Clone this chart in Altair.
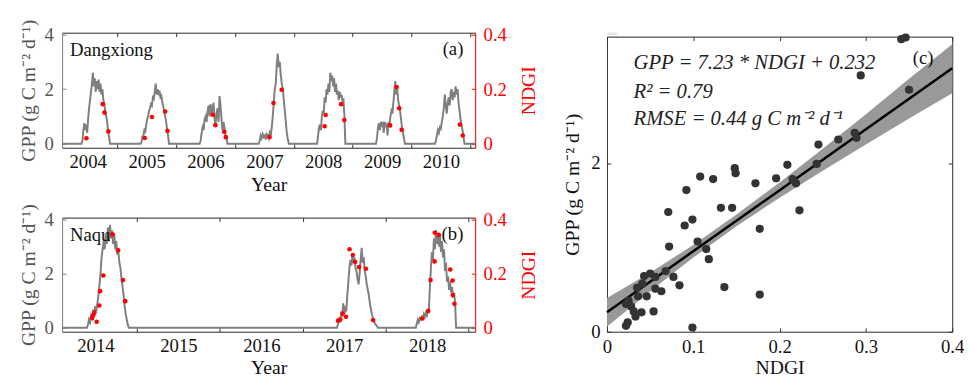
import altair as alt
import pandas as pd

FONT = "Liberation Serif"

# ---------------- Panel (a) Dangxiong: GPP seasons ----------------
dx_domain = [2004.064, 2011.08]
dx_ticks = [2005, 2006, 2007, 2008, 2009, 2010, 2011]
dx_start = [2004.393, 2005.396, 2006.400, 2007.403, 2008.396, 2009.396, 2010.396]
dx_end = [2004.878, 2005.880, 2006.873, 2007.915, 2008.875, 2009.886, 2010.898]
gpp_dx_2004 = [0.1, 0.5, 0.75, 0.5, 0.7, 0.4, 0.9, 1.3, 1.6, 1.9, 2.2, 2.6, 2.1, 2.4, 1.9,
               2.3, 2.0, 2.35, 1.9, 2.2, 1.8, 2.0, 1.6, 1.45, 1.2, 1.0, 0.8, 0.45, 0.25, 0.0]
gpp_dx_2005 = [0.05, 0.25, 0.3, 0.5, 0.45, 0.7, 0.9, 1.0, 1.2, 1.3, 1.45, 1.4, 1.7, 1.65, 1.9,
               2.2, 1.8, 2.0, 1.85, 1.95, 1.7, 1.75, 1.5, 1.35, 1.2, 1.0, 0.8, 0.5, 0.3, 0.0]
gpp_dx_2006 = [0.1, 0.4, 0.6, 0.5, 0.9, 1.0, 0.8, 1.2, 1.4, 1.0, 1.45, 1.1, 1.3, 1.5, 0.9,
               0.7, 1.1, 1.3, 0.8, 1.75, 1.4, 0.9, 0.5, 0.8, 0.6, 0.3, 0.2, 0.0]
gpp_dx_2007 = [0.1, 0.3, 0.2, 0.35, 0.25, 0.3, 0.15, 0.35, 0.3, 0.2, 0.4, 0.3, 0.6, 1.0, 1.5,
               2.0, 2.2, 2.9, 3.3, 2.8, 3.0, 2.5, 2.2, 2.0, 1.6, 1.2, 0.8, 0.4, 0.15, 0.0]
gpp_dx_2008 = [0.3, 0.6, 0.7, 0.5, 1.0, 1.2, 1.1, 1.7, 1.5, 2.0, 1.8, 2.2, 1.9, 2.6, 2.3,
               2.5, 2.1, 2.4, 1.9, 2.2, 1.8, 1.95, 1.6, 1.9, 1.7, 1.8, 1.55, 1.6, 1.0, 0.0]
gpp_dx_2009 = [0.2, 0.6, 0.75, 0.5, 0.8, 0.7, 0.8, 0.4, 0.8, 0.6, 0.75, 0.3, 0.8, 0.7, 1.0,
               1.2, 1.1, 1.5, 1.9, 2.3, 1.8, 2.0, 1.6, 1.4, 1.2, 0.9, 0.6, 0.4, 0.2, 0.0]
gpp_dx_2010 = [0.1, 0.3, 0.5, 0.4, 0.6, 0.55, 0.8, 1.0, 1.3, 1.8, 1.4, 1.1, 1.5, 1.7, 1.4,
               1.9, 2.0, 1.6, 1.9, 1.7, 2.1, 1.8, 2.0, 1.5, 1.2, 0.9, 0.7, 0.5, 0.25, 0.0]
dx_seasons = [gpp_dx_2004, gpp_dx_2005, gpp_dx_2006, gpp_dx_2007,
              gpp_dx_2008, gpp_dx_2009, gpp_dx_2010]

ndgi_dx_t = [2004.477, 2004.754, 2004.783, 2004.850, 2005.468, 2005.590, 2005.814, 2005.853,
             2006.622, 2006.667, 2006.818, 2006.844, 2007.587, 2007.654, 2007.793,
             2008.523, 2008.540, 2008.803, 2008.858, 2009.635, 2009.747, 2009.790, 2009.830,
             2010.819, 2010.869]
ndgi_dx_v = [0.020, 0.145, 0.114, 0.045, 0.021, 0.098, 0.118, 0.047,
             0.106, 0.068, 0.044, 0.024, 0.024, 0.149, 0.198,
             0.064, 0.105, 0.145, 0.087, 0.067, 0.208, 0.130, 0.051,
             0.070, 0.030]

# ---------------- Panel (b) Naqu ----------------
nq_domain = [2014.10, 2019.08]
nq_ticks = [2015, 2016, 2017, 2018, 2019]
nq_start = [2014.399, 2017.415, 2018.364]
nq_end = [2014.905, 2017.909, 2018.850]
gpp_nq_2014 = [0.1, 0.3, 0.2, 0.45, 0.35, 0.6, 0.5, 0.8, 0.6, 0.9, 1.2, 1.6, 2.0, 2.6, 2.9,
               3.2, 2.9, 3.5, 3.1, 3.7, 3.2, 3.8, 3.3, 3.6, 3.1, 3.5, 2.9, 3.2, 2.7, 2.8,
               2.4, 2.2, 1.8, 1.5, 1.2, 0.8, 0.5, 0.3, 0.1, 0.0]
gpp_nq_2017 = [0.15, 0.3, 0.25, 0.5, 0.4, 0.9, 0.5, 0.7, 0.6, 1.2, 1.7, 2.2, 2.5, 2.3, 2.7,
               2.4, 2.6, 2.2, 2.1, 1.8, 1.6, 2.0, 2.5, 2.95, 2.4, 2.6, 2.1, 1.9, 1.6, 1.4,
               1.2, 0.9, 0.7, 0.5, 0.35, 0.25, 0.15, 0.1, 0.05, 0.0]
gpp_nq_2018 = [0.15, 0.3, 0.2, 0.35, 0.3, 0.4, 0.35, 0.5, 0.4, 0.55, 0.45, 0.6, 0.7, 1.5, 2.2,
               2.8, 2.5, 3.3, 2.9, 3.6, 3.1, 3.5, 3.0, 3.4, 2.8, 3.2, 2.6, 2.9, 2.1, 2.4,
               1.7, 1.9, 1.4, 1.7, 1.3, 1.5, 1.1, 1.3, 0.9, 0.0]
nq_seasons = [gpp_nq_2014, gpp_nq_2017, gpp_nq_2018]

ndgi_nq_t = [2014.463, 2014.478, 2014.490, 2014.517, 2014.549, 2014.558, 2014.597, 2014.707,
             2014.775, 2014.834, 2014.861,
             2017.427, 2017.454, 2017.482, 2017.522, 2017.565, 2017.605, 2017.632, 2017.680,
             2017.763, 2017.849,
             2018.442, 2018.514, 2018.542, 2018.590, 2018.593, 2018.641, 2018.779, 2018.807,
             2018.810, 2018.830]
ndgi_nq_v = [0.036, 0.048, 0.056, 0.022, 0.082, 0.135, 0.193, 0.345, 0.286, 0.176, 0.098,
             0.026, 0.030, 0.052, 0.040, 0.290, 0.269, 0.243, 0.224, 0.218, 0.028,
             0.034, 0.062, 0.176, 0.245, 0.351, 0.343, 0.215, 0.174, 0.121, 0.088]

# ---------------- Panel (c) scatter ----------------
sc_ndgi = [0.341, 0.346, 0.294, 0.350, 0.287, 0.289, 0.268, 0.245, 0.243, 0.209, 0.196, 0.215,
           0.219, 0.223, 0.172, 0.148, 0.149, 0.123, 0.108, 0.092, 0.071, 0.132, 0.145, 0.099,
           0.090, 0.177, 0.072, 0.105, 0.115, 0.118, 0.136, 0.177, 0.099,
           0.043, 0.050, 0.056, 0.068, 0.077, 0.084, 0.035, 0.046, 0.056, 0.063, 0.025, 0.022,
           0.028, 0.031, 0.040, 0.054, 0.024, 0.022, 0.033, 0.036, 0.041]
sc_gpp = [3.47, 3.49, 3.04, 2.87, 2.36, 2.30, 2.28, 2.22, 1.99, 1.98, 1.82, 1.81,
          1.76, 1.44, 1.76, 1.94, 1.88, 1.81, 1.84, 1.68, 1.42, 1.47, 1.47, 1.33,
          1.26, 1.22, 1.01, 1.07, 0.98, 0.86, 0.53, 0.44, 0.05,
          0.66, 0.69, 0.65, 0.72, 0.65, 0.55, 0.52, 0.42, 0.51, 0.48, 0.37, 0.33,
          0.30, 0.24, 0.23, 0.24, 0.11, 0.07, 0.18, 0.42, 0.57]
reg_x = [0.0, 0.4]
reg_y = [0.232, 3.124]
band_x = [0.0, 0.05, 0.1, 0.15, 0.2, 0.25, 0.3, 0.35, 0.4]
band_lo = [0.06, 0.48, 0.88, 1.25, 1.59, 1.91, 2.22, 2.53, 2.83]
band_hi = [0.40, 0.70, 1.03, 1.39, 1.77, 2.17, 2.58, 3.00, 3.41]

GRAY = "#7f7f7f"
DARK = "#333333"
RED = "#ff0000"
W = 420
HA, HB = 117, 116
VSP = 71


def build_series(domain, starts, ends, seasons):
    xs, ys = [domain[0]], [0.0]
    for s, e, vals in zip(starts, ends, seasons):
        xs.append(s)
        ys.append(0.0)
        step = (e - s) / len(vals)
        for i, v in enumerate(vals):
            xs.append(s + step * (i + 1))
            ys.append(v)
    xs.append(domain[1])
    ys.append(0.0)
    return pd.DataFrame({"t": xs, "gpp": ys})


def ts_panel(df_line, df_dots, xdom, xticks, lab_off, name, tag, height):
    xs = alt.Scale(domain=xdom, nice=False, zero=False)
    ysg = alt.Scale(domain=[-0.15, 4.07], nice=False, zero=False)
    ysn = alt.Scale(domain=[-0.015, 0.407], nice=False, zero=False)
    ax_x_main = alt.Axis(values=xticks, labelExpr="'' + (datum.value - 1)", labelOffset=lab_off,
                         ticks=False, tickSize=0, domain=True, domainColor=DARK, grid=False,
                         title="Year", labelFont=FONT, labelFontSize=19, labelColor="#111",
                         labelPadding=5, titleFont=FONT, titleFontSize=20,
                         titleFontWeight="normal", titleColor="#111", titlePadding=3,
                         labelFlush=False, labelOverlap=False)
    ax_x_in_bottom = alt.Axis(orient="top", offset=-height, values=xticks, labels=False,
                              domain=False, grid=False, ticks=True, tickSize=4,
                              tickColor=DARK, title=None)
    ax_x_in_top = alt.Axis(orient="bottom", offset=-height, values=xticks, labels=False,
                           domain=True, domainColor=DARK, grid=False, ticks=True, tickSize=4,
                           tickColor=DARK, title=None)
    ax_g_main = alt.Axis(orient="left", values=[0, 2, 4], format="d", ticks=False, tickSize=0,
                         domain=True, domainColor=GRAY, grid=False,
                         title="GPP (g C m⁻² d⁻¹)", labelFont=FONT, labelFontSize=19,
                         labelColor="#555", labelPadding=9, titleFont=FONT, titleFontSize=20,
                         titleFontWeight="normal", titleColor="#555", titlePadding=6)
    ax_g_in = alt.Axis(orient="right", offset=-W, values=[0, 2, 4], labels=False, domain=False,
                       grid=False, ticks=True, tickSize=4, tickColor=GRAY, title=None)
    ax_n_main = alt.Axis(orient="right", values=[0, 0.2, 0.4], format="~g", ticks=False,
                         tickSize=0, domain=True, domainColor=RED, grid=False, title="NDGI",
                         titleAngle=270, titleBaseline="top",
                         labelFont=FONT, labelFontSize=19, labelColor=RED, labelPadding=8,
                         titleFont=FONT, titleFontSize=20, titleFontWeight="normal",
                         titleColor=RED, titlePadding=13)
    ax_n_in = alt.Axis(orient="left", offset=-W, values=[0, 0.2, 0.4], labels=False,
                       domain=False, grid=False, ticks=True, tickSize=4, tickColor=RED,
                       title=None)

    line = alt.Chart(df_line).mark_line(color=GRAY, strokeWidth=2).encode(
        x=alt.X("t:Q", scale=xs, axis=ax_x_main),
        y=alt.Y("gpp:Q", scale=ysg, axis=ax_g_main),
    )
    dots = alt.Chart(df_dots).mark_circle(color=RED, size=22, opacity=1).encode(
        x=alt.X("t:Q", scale=xs, axis=ax_x_in_bottom),
        y=alt.Y("ndgi:Q", scale=ysn, axis=ax_n_main),
    )
    inv_g = alt.Chart(df_line).mark_line(opacity=0).encode(
        x=alt.X("t:Q", scale=xs, axis=ax_x_in_top),
        y=alt.Y("gpp:Q", scale=ysg, axis=ax_g_in),
    )
    inv_n = alt.Chart(df_dots).mark_circle(opacity=0).encode(
        x=alt.X("t:Q", scale=xs, axis=None),
        y=alt.Y("ndgi:Q", scale=ysn, axis=ax_n_in),
    )
    t_name = alt.Chart(pd.DataFrame({"s": [name]})).mark_text(
        font=FONT, fontSize=19, align="left", baseline="alphabetic", color="#111"
    ).encode(text="s:N", x=alt.value(8), y=alt.value(24))
    t_tag = alt.Chart(pd.DataFrame({"s": [tag]})).mark_text(
        font=FONT, fontSize=19, align="right", baseline="alphabetic", color="#111"
    ).encode(text="s:N", x=alt.value(408), y=alt.value(23))

    return alt.layer(line, dots, inv_g, inv_n, t_name, t_tag).resolve_scale(
        y="independent"
    ).resolve_axis(x="independent", y="independent").properties(width=W, height=height)


df_a = build_series(dx_domain, dx_start, dx_end, dx_seasons)
df_a_dots = pd.DataFrame({"t": ndgi_dx_t, "ndgi": ndgi_dx_v})
df_b = build_series(nq_domain, nq_start, nq_end, nq_seasons)
df_b_dots = pd.DataFrame({"t": ndgi_nq_t, "ndgi": ndgi_nq_v})

pa = ts_panel(df_a, df_a_dots, dx_domain, dx_ticks, -30, "Dangxiong", "(a)", HA)
pb = ts_panel(df_b, df_b_dots, nq_domain, nq_ticks, -42, "Naqu", "(b)", HB)

# ---------------- scatter panel ----------------
CW = 351
CH = HA + VSP + HB - 4
sxs = alt.Scale(domain=[0, 0.4], nice=False, zero=False)
sys_ = alt.Scale(domain=[0, 3.5], nice=False, zero=False)
xt = [0, 0.1, 0.2, 0.3, 0.4]
yt = [0, 2]
cx_main = alt.Axis(values=xt, format=".1~f", ticks=False, tickSize=0, domain=True,
                   domainColor=DARK, grid=False, title="NDGI", labelFont=FONT, labelFontSize=19,
                   labelColor="#111", labelPadding=6, titleFont=FONT, titleFontSize=20,
                   titleFontWeight="normal", titleColor="#111", titlePadding=2,
                   labelFlush=False)
cx_in_b = alt.Axis(orient="top", offset=-CH, values=xt, labels=False, domain=False, grid=False,
                   ticks=True, tickSize=4, tickColor=DARK, title=None)
cx_in_t = alt.Axis(orient="bottom", offset=-CH, values=xt, labels=False, domain=True,
                   domainColor=DARK, grid=False, ticks=True, tickSize=4, tickColor=DARK,
                   title=None)
cy_main = alt.Axis(values=yt, format="d", ticks=False, tickSize=0, domain=True,
                   domainColor=DARK, grid=False, title="GPP (g C m⁻² d⁻¹)", labelFont=FONT,
                   labelFontSize=19, labelColor="#111", labelPadding=7, titleFont=FONT,
                   titleFontSize=20, titleFontWeight="normal", titleColor="#111",
                   titlePadding=8)
cy_in_l = alt.Axis(orient="right", offset=-CW, values=yt, labels=False, domain=False,
                   grid=False, ticks=True, tickSize=4, tickColor=DARK, title=None)
cy_in_r = alt.Axis(orient="left", offset=-CW, values=yt, labels=False, domain=True,
                   domainColor=DARK, grid=False, ticks=True, tickSize=4, tickColor=DARK,
                   title=None)

band = alt.Chart(pd.DataFrame({"x": band_x, "lo": band_lo, "hi": band_hi})).mark_area(
    color="#999999", opacity=1
).encode(
    x=alt.X("x:Q", scale=sxs, axis=cx_main),
    y=alt.Y("lo:Q", scale=sys_, axis=cy_main),
    y2="hi:Q",
)
reg = alt.Chart(pd.DataFrame({"x": reg_x, "y": reg_y})).mark_line(
    color="#000000", strokeWidth=2.5
).encode(
    x=alt.X("x:Q", scale=sxs, axis=cx_in_b),
    y=alt.Y("y:Q", scale=sys_, axis=cy_in_l),
)
pts = alt.Chart(pd.DataFrame({"ndgi": sc_ndgi, "gpp": sc_gpp})).mark_circle(
    color="#333333", size=70, opacity=1
).encode(
    x=alt.X("ndgi:Q", scale=sxs, axis=cx_in_t),
    y=alt.Y("gpp:Q", scale=sys_, axis=cy_in_r),
)
ann_lines = ["GPP = 7.23 * NDGI + 0.232", "R² = 0.79", "RMSE = 0.44 g C m⁻² d⁻¹"]
ann_y = [33, 62, 90]
ann = alt.Chart(pd.DataFrame({"s": ann_lines, "py": ann_y})).mark_text(
    font=FONT, fontSize=21, fontStyle="italic", align="left", baseline="alphabetic",
    color="#222"
).encode(text="s:N", x=alt.value(27), y=alt.Y("py:Q", scale=None))
tag_c = alt.Chart(pd.DataFrame({"s": ["(c)"]})).mark_text(
    font=FONT, fontSize=19, align="right", baseline="alphabetic", color="#111"
).encode(text="s:N", x=alt.value(332), y=alt.value(28))

pc = alt.layer(band, reg, pts, ann, tag_c).resolve_axis(
    x="independent", y="independent"
).properties(width=CW, height=CH)

spacer = alt.Chart(pd.DataFrame({"v": [0]})).mark_point(opacity=0).encode(
    x=alt.value(0), y=alt.value(0)
).properties(width=10, height=1)

left = alt.vconcat(pa, pb, spacing=VSP, bounds="flush")
right = alt.vconcat(spacer, pc, spacing=3, bounds="flush")
chart = alt.hconcat(left, right, spacing=23).properties(
    padding={"left": 9, "top": 7, "right": 0, "bottom": 0}
).configure_view(stroke="transparent", strokeWidth=0).configure(
    font=FONT, background="white"
)

chart.save("out.html", embed_options={"renderer": "svg", "actions": False})
